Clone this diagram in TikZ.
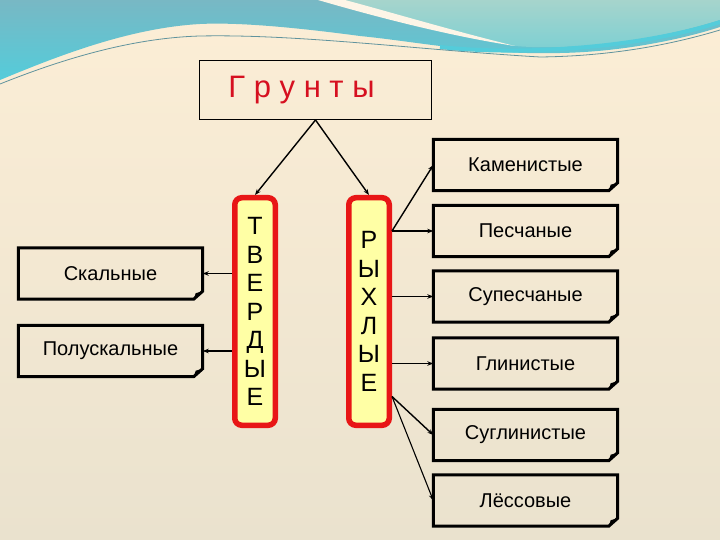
\documentclass[tikz,border=0pt]{standalone}
\usepackage{fontspec}
\setmainfont{Liberation Sans}
\usetikzlibrary{arrows.meta}
\definecolor{cream}{RGB}{252,238,214}
\definecolor{sand}{RGB}{234,226,206}
\definecolor{sea}{RGB}{120,184,196}
\definecolor{mint}{RGB}{166,212,204}
\definecolor{cyanish}{RGB}{84,204,218}
\definecolor{barred}{RGB}{232,22,22}
\definecolor{barfill}{RGB}{255,255,165}
\definecolor{titlered}{RGB}{214,16,32}
\tikzset{
  tab/.style={minimum width=184pt, minimum height=51pt, inner sep=0pt, font=\fontsize{20}{24}\selectfont},
  bar/.style={draw=barred, fill=barfill, line width=5.5pt, rounded corners=7pt, minimum width=40.5pt,
    minimum height=227.5pt, inner sep=0pt, align=center, font=\fontsize{25}{28.5}\selectfont},
}
\newcommand{\foldbox}[1]{%
  \draw[line width=3pt] (#1.north west) -- (#1.north east) -- ([yshift=8pt]#1.south east)
    -- ([xshift=-9pt]#1.south east) -- (#1.south west) -- cycle;
  \fill ([yshift=8pt]#1.south east) -- ([xshift=-9pt]#1.south east) -- ([xshift=-7pt,yshift=6pt]#1.south east) -- cycle;}
\begin{document}
\begin{tikzpicture}[x=1pt, y=-1pt, >={Stealth[length=6pt, width=4.5pt]}]
    \useasboundingbox (0,0) rectangle (720,540);
    \shade[top color=cream, bottom color=sand] (0,0) rectangle (720,540);
    % waves at the top
    \shade[top color=sea, bottom color=cyanish] (0,0) -- (720,0) -- (720,27) .. controls (680,40) and (620,52) .. (560,53)
      .. controls (480,55) and (420,42) .. (360,36) .. controls (300,28) and (240,22) .. (200,24)
      .. controls (130,28) and (60,55) .. (0,80) -- cycle;
    \shade[top color=mint, bottom color=mint!50!cyanish] (340,0) .. controls (390,14) and (450,34) .. (515,46)
      .. controls (560,50) and (640,45) .. (720,20) -- (720,0) -- cycle;
    \draw[cyanish, line width=4pt] (440,47) .. controls (520,56) and (640,48) .. (720,22);
    \fill[cream!60!white] (318,0) .. controls (380,18) and (450,36) .. (515,46) .. controls (450,30) and (390,12) .. (345,0) -- cycle;
    \draw[sea!80!black, line width=0.8pt] (0,84) .. controls (60,60) and (130,38) .. (200,36)
      .. controls (300,34) and (420,50) .. (540,57) .. controls (620,56) and (680,42) .. (720,30);
    \node[draw, line width=1pt, minimum width=232pt, minimum height=59pt, text=titlered,
      font=\fontsize{31}{31}\selectfont] (grunty) at (315.5,90) {\hspace*{-28pt}Г р у н т ы};
    \node[bar] (tverd) at (255,311.5) {Т\\В\\Е\\Р\\Д\\Ы\\Е};
    \node[bar] (ryhl) at (369,311.5) {Р\\Ы\\Х\\Л\\Ы\\Е};
    \node[tab] (skal) at (110.5,273.5) {Скальные};
    \node[tab] (poluskal) at (110.5,351) {Полускальные};
    \node[tab] (kamen) at (525.5,165) {Каменистые};
    \node[tab] (pesch) at (525.5,231) {Песчаные};
    \node[tab] (supesch) at (525.5,296.5) {Супесчаные};
    \node[tab] (glin) at (525.5,363.5) {Глинистые};
    \node[tab] (sugl) at (525.5,435) {Суглинистые};
    \node[tab] (less) at (525.5,500.5) {Лёссовые};
    \foreach \n in {skal,poluskal,kamen,pesch,supesch,glin,sugl,less} {\foldbox{\n}}
    \draw[->, line width=1.4pt] (grunty.south) -- (tverd.north);
    \draw[->, line width=1.4pt] (grunty.south) -- (ryhl.north);
    \draw[->, line width=1.8pt] (tverd.west |- skal.east) -- (skal.east);
    \draw[->, line width=1.8pt] (tverd.west |- poluskal.east) -- (poluskal.east);
    \coordinate (rtop) at (ryhl.east |- pesch.west);
    \coordinate (rlow) at ([yshift=-85pt]ryhl.east);
    \draw[->, line width=1.4pt] (rtop) -- (kamen.west);
    \draw[->, line width=1.8pt] (rtop) -- (pesch.west);
    \draw[->, line width=1.8pt] (ryhl.east |- supesch.west) -- (supesch.west);
    \draw[->, line width=1.8pt] (ryhl.east |- glin.west) -- (glin.west);
    \draw[->, line width=1.4pt] (rlow) -- (sugl.west);
    \draw[->, line width=1.1pt] (rlow) -- (less.west);
    \end{tikzpicture}
\end{document}
